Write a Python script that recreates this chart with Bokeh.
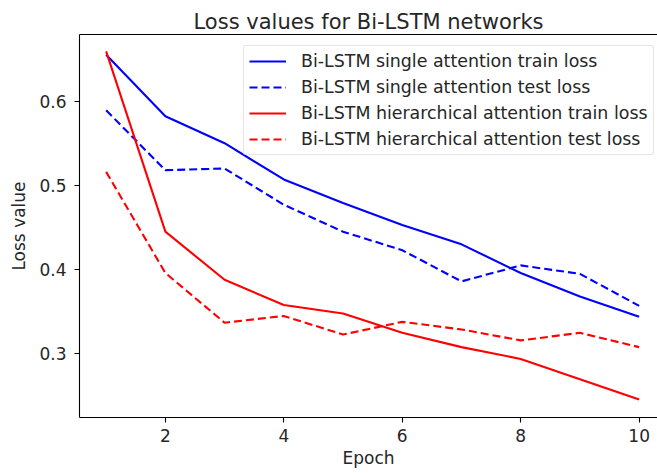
from bokeh.plotting import figure
from bokeh.models import Range1d, LinearAxis, Legend, LegendItem, FixedTicker, Title
from bokeh.embed import file_html
from bokeh.resources import INLINE

epochs = [1, 2, 3, 4, 5, 6, 7, 8, 9, 10]
single_train = [0.655, 0.582, 0.550, 0.507, 0.479, 0.453, 0.430, 0.396, 0.368, 0.344]
single_test = [0.589, 0.518, 0.520, 0.477, 0.445, 0.423, 0.386, 0.405, 0.395, 0.357]
hier_train = [0.659, 0.445, 0.388, 0.358, 0.348, 0.325, 0.308, 0.294, 0.270, 0.246]
hier_test = [0.516, 0.396, 0.337, 0.345, 0.323, 0.338, 0.329, 0.316, 0.325, 0.308]
labels = [
    "Bi-LSTM single attention train loss",
    "Bi-LSTM single attention test loss",
    "Bi-LSTM hierarchical attention train loss",
    "Bi-LSTM hierarchical attention test loss",
]
x_ticks = [2, 4, 6, 8, 10]
y_ticks = [0.3, 0.4, 0.5, 0.6]

FONT = "DejaVu Sans"
TXT = "#262626"
FS = "17px"

p = figure(width=657, height=473, output_backend="svg", toolbar_location=None,
           x_range=Range1d(0.55, 10.31), y_range=Range1d(0.2245, 0.679),
           x_axis_location=None, y_axis_location=None,
           min_border_left=79, min_border_right=0, min_border_top=34, min_border_bottom=56)
p.outline_line_color = None
p.xgrid.grid_line_color = None
p.ygrid.grid_line_color = None
p.background_fill_color = "white"
p.border_fill_color = "white"

def style_axis(ax):
    ax.axis_line_color = "black"
    ax.axis_line_width = 1.1
    ax.major_tick_line_color = "black"
    ax.major_tick_line_width = 1.1
    ax.major_tick_out = 5
    ax.major_tick_in = 0
    ax.minor_tick_line_color = None
    ax.major_label_text_font = FONT
    ax.major_label_text_font_size = FS
    ax.major_label_text_color = TXT
    ax.axis_label_text_font = FONT
    ax.axis_label_text_font_size = FS
    ax.axis_label_text_font_style = "normal"
    ax.axis_label_text_color = TXT

xa = LinearAxis(ticker=FixedTicker(ticks=x_ticks), axis_label="Epoch")
style_axis(xa)
xa.major_label_standoff = 6
xa.axis_label_standoff = 3
p.add_layout(xa, "below")

ya = LinearAxis(ticker=FixedTicker(ticks=y_ticks), axis_label="Loss value")
style_axis(ya)
ya.major_label_standoff = 8
ya.axis_label_standoff = 7
p.add_layout(ya, "left")

top = LinearAxis(ticker=FixedTicker(ticks=[]))
style_axis(top)
top.major_label_text_font_size = "0px"
top.major_tick_out = 0
p.add_layout(top, "above")

p.title = Title(text="Loss values for Bi-LSTM networks", align="center",
                text_font=FONT, text_font_size="21px", text_font_style="normal",
                text_color=TXT, standoff=2)

lw = 2.1
dash = "8 4"
r1 = p.line(epochs, single_train, line_color="blue", line_width=lw)
r2 = p.line(epochs, single_test, line_color="blue", line_width=lw, line_dash=dash)
r3 = p.line(epochs, hier_train, line_color="red", line_width=lw)
r4 = p.line(epochs, hier_test, line_color="red", line_width=lw, line_dash=dash)

legend = Legend(items=[LegendItem(label=l, renderers=[r]) for l, r in zip(labels, [r1, r2, r3, r4])],
                location=(164, 262))
legend.label_text_font = FONT
legend.label_text_font_size = "17.4px"
legend.label_text_color = TXT
legend.glyph_width = 37
legend.glyph_height = 20
legend.label_height = 20
legend.label_standoff = 15
legend.spacing = 6
legend.padding = 5
legend.margin = 0
legend.border_line_color = "#cccccc"
legend.border_line_width = 1
legend.background_fill_alpha = 0.8
legend.border_radius = 3
p.add_layout(legend, "center")

open("out.html", "w").write(file_html(p, INLINE))
